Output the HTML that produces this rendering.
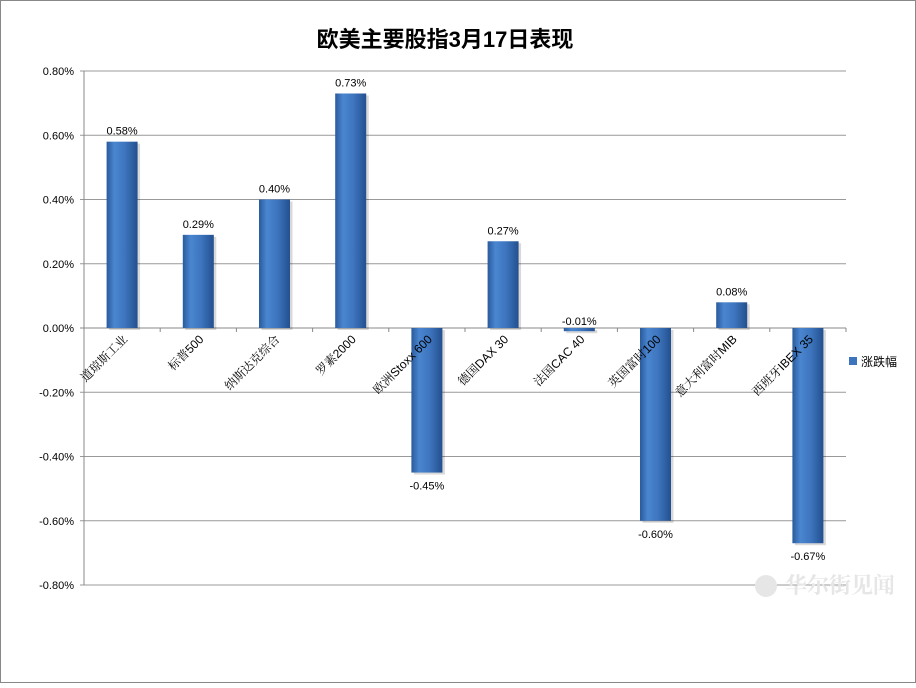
<!DOCTYPE html>
<html><head><meta charset="utf-8"><style>
body{margin:0;background:#fff}
svg text{font-family:"Liberation Sans","Noto Sans CJK SC",sans-serif}
</style></head><body>
<svg id="c" width="916" height="683" viewBox="0 0 916 683" xmlns="http://www.w3.org/2000/svg">
<defs>
<linearGradient id="g" x1="0" x2="1" y1="0" y2="0">
<stop offset="0" stop-color="#2a5a9c"/><stop offset="0.25" stop-color="#4a86d0"/><stop offset="0.6" stop-color="#3d74bd"/><stop offset="1" stop-color="#23508f"/>
</linearGradient>
</defs>
<rect x="0.5" y="0.5" width="915" height="682" fill="#fff" stroke="#888"/>
<text x="445" y="47" text-anchor="middle" font-size="22" font-weight="bold">欧美主要股指3月17日表现</text>
<g id="plot"></g>
<rect x="849" y="357" width="8" height="8" fill="#3d74bd"/>
<text x="861" y="366" font-size="12">涨跌幅</text>
<text x="785" y="593" font-size="22" font-weight="bold" fill="#e6e6e6" style="font-family:'Noto Serif CJK SC',serif">华尔街见闻</text>
<circle cx="766" cy="586" r="11" fill="#e6e6e6"/>
</svg>
<script>
const categories=["道琼斯工业","标普500","纳斯达克综合","罗素2000","欧洲Stoxx 600","德国DAX 30","法国CAC 40","英国富时100","意大利富时MIB","西班牙IBEX 35"];
const values=[0.58,0.29,0.40,0.73,-0.45,0.27,-0.01,-0.60,0.08,-0.67];
const ticks=[0.8,0.6,0.4,0.2,0,-0.2,-0.4,-0.6,-0.8];
const L=84,R=846,T=71,B=585,min=-0.8,max=0.8;
const y=v=>T+(max-v)/(max-min)*(B-T);
const slot=(R-L)/categories.length;
const x=i=>L+slot*(i+0.5);
const ns="http://www.w3.org/2000/svg",p=document.getElementById('plot');
function mk(t,a){const e=document.createElementNS(ns,t);for(const k in a)e.setAttribute(k,a[k]);p.appendChild(e);return e;}
ticks.forEach(t=>{
 const l=mk('line',{x1:L-4,x2:R,y1:y(t),y2:y(t),stroke:t===0?'#888':'#999','stroke-width':1});
 
 
 const s=mk('text',{x:L-10,y:y(t)+4,'text-anchor':'end','font-size':11});
 s.textContent=t.toFixed(2)+'%';
 
 
});
const ax=mk('line',{x1:L,x2:L,y1:T,y2:B,stroke:'#888'});


categories.forEach((c,i)=>{
 const tk=mk('line',{x1:L+slot*(i+1),x2:L+slot*(i+1),y1:y(0),y2:y(0)+4,stroke:'#888'});
 
 
 const v=values[i],y0=y(0),yv=y(v);
 const top=Math.min(y0,yv),h=Math.max(Math.abs(yv-y0),1.5);
 const sh=mk('rect',{x:x(i)-15+2,y:top+2,width:31,height:h,fill:'#000',opacity:0.15});
 
 
 const b=mk('rect',{x:x(i)-15.5,y:top,width:31,height:h,fill:'url(#g)'});
 
 
 const small=Math.abs(yv-y0)<10;
 const lb=mk('text',{x:x(i),y:(v>=0||small)?Math.min(yv,y0)-3-(v>=0?4:0):yv+17,'text-anchor':'middle','font-size':11});
 lb.textContent=v.toFixed(2)+'%';
 
 
 const cx=x(i)+6,cy=y(0)+12;
 const xl=mk('text',{x:cx,y:cy,'text-anchor':'end','font-size':12,transform:`rotate(-45 ${cx} ${cy})`,style:"font-family:'Liberation Sans','Noto Serif CJK SC',serif"});
 xl.textContent=c;
 
 
});
</script>
</body></html>
